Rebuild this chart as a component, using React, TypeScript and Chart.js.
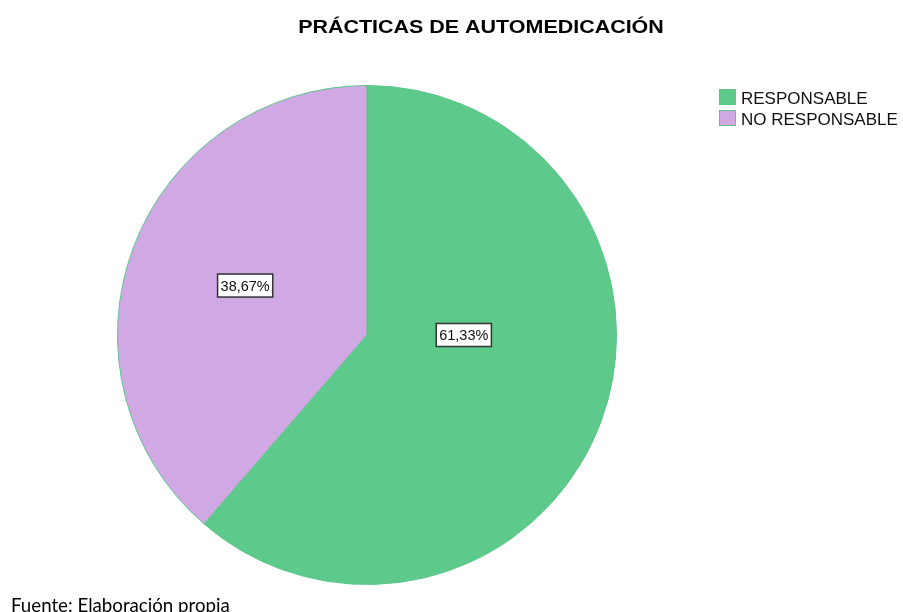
import React, { useEffect, useRef } from "react";
import { Chart, registerables } from "chart.js";

Chart.register(...registerables);

const categories = ["RESPONSABLE", "NO RESPONSABLE"];
const values = [61.33, 38.67];
const colors = ["#5DCA8B", "#D0A9E4"];
const titleText = "PRÁCTICAS DE AUTOMEDICACIÓN";
const footerText = "Fuente: Elaboración propia";

const SANS = "'Liberation Sans', Arimo, sans-serif";

const overlayPlugin = {
  id: "overlay",
  afterDraw(chart: any, _args: any, opts: any) {
    const ctx = chart.ctx;
    ctx.save();
    // title (slightly wide, as in the reference)
    ctx.fillStyle = "#000";
    ctx.font = `bold 18.5px ${SANS}`;
    ctx.textAlign = "center";
    ctx.textBaseline = "alphabetic";
    ctx.save();
    ctx.translate(481, 33);
    ctx.scale(1.16, 1);
    ctx.fillText(titleText, 0, 0);
    ctx.restore();

    // legend
    ctx.textAlign = "left";
    ctx.font = `17px ${SANS}`;
    categories.forEach((c, i) => {
      const y = 89 + i * 21;
      ctx.fillStyle = colors[i];
      ctx.fillRect(719, y, 17, 16);
      ctx.strokeStyle = "#5BC58A";
      ctx.lineWidth = 1;
      ctx.strokeRect(719.5, y + 0.5, 16, 15);
      ctx.fillStyle = "#111";
      ctx.fillText(c, 741, y + 15);
    });

    // value labels
    const meta = chart.getDatasetMeta(0);
    ctx.font = `14.5px ${SANS}`;
    meta.data.forEach((el: any, i: number) => {
      const [angDeg, frac] = opts.labelPos[i];
      const a = (angDeg * Math.PI) / 180;
      const r = el.outerRadius * frac;
      const cx = el.x + Math.sin(a) * r;
      const cy = el.y - Math.cos(a) * r;
      const txt = values[i].toFixed(2).replace(".", ",") + "%";
      const w = ctx.measureText(txt).width + 6;
      const h = 23;
      ctx.fillStyle = "#fff";
      ctx.fillRect(cx - w / 2, cy - h / 2, w, h);
      ctx.strokeStyle = "#333";
      ctx.lineWidth = 1.5;
      ctx.strokeRect(cx - w / 2, cy - h / 2, w, h);
      ctx.fillStyle = "#111";
      ctx.textAlign = "center";
      ctx.textBaseline = "middle";
      ctx.fillText(txt, cx, cy + 1);
    });

    // footer
    ctx.textAlign = "left";
    ctx.textBaseline = "alphabetic";
    ctx.fillStyle = "#000";
    ctx.font = "18.7px Lato, 'Open Sans', sans-serif";
    ctx.fillText(footerText, 11, 612);
    ctx.restore();
  },
};

export default function App() {
  const ref = useRef<HTMLCanvasElement>(null);
  useEffect(() => {
    if (!ref.current) return;
    const chart = new Chart(ref.current, {
      type: "pie",
      data: {
        labels: categories,
        datasets: [
          {
            data: values,
            backgroundColor: colors,
            borderColor: "#5BC58A",
            borderWidth: 1,
          },
        ],
      },
      options: {
        responsive: false,
        animation: false,
        layout: { padding: { left: 117, right: 286, top: 85, bottom: 27 } },
        plugins: {
          legend: { display: false },
          title: { display: false },
          tooltip: { enabled: false },
          overlay: { labelPos: [[90, 0.388], [292.1, 0.527]] },
        } as any,
      },
      plugins: [overlayPlugin],
    });
    return () => chart.destroy();
  }, []);
  return (
    <div style={{ position: "absolute", left: 0, top: 0, width: 903, height: 612, background: "#fff" }}>
      <canvas ref={ref} width={903} height={612} style={{ display: "block" }} />
    </div>
  );
}
